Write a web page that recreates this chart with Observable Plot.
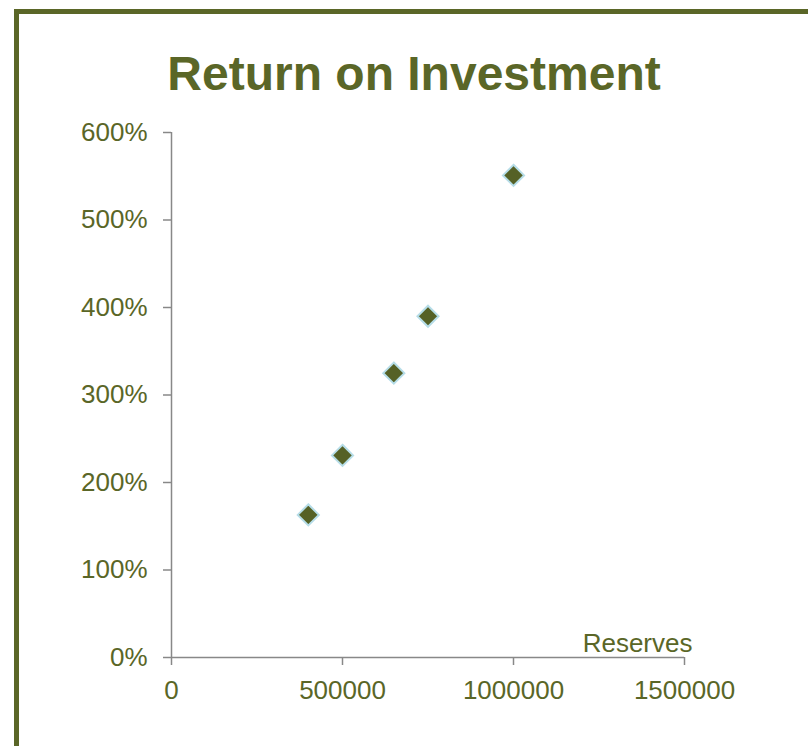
<!DOCTYPE html>
<html>
<head>
<meta charset="utf-8">
<script src="https://cdn.jsdelivr.net/npm/d3@7"></script>
<script src="https://cdn.jsdelivr.net/npm/@observablehq/plot@0.6"></script>
<style>
  html, body { margin: 0; padding: 0; background: #fff; width: 808px; height: 746px; overflow: hidden; }
  #frame { position: absolute; left: 14px; top: 9px; width: 900px; height: 900px;
           border-left: 5px solid #5A6627; border-top: 5px solid #5A6627; box-sizing: border-box; }
  #title { position: absolute; left: 414px; top: 50px; transform: translateX(-50%);
           font-family: "Liberation Sans", Arial, sans-serif; font-weight: bold; font-size: 48px;
           line-height: 48px; color: #5A6627; white-space: nowrap; }
  #chart { position: absolute; left: 0; top: 0; }
</style>
</head>
<body>
<div id="frame"></div>
<div id="chart"></div>
<div id="title">Return on Investment</div>
<script>
const reserves = [400000, 500000, 650000, 750000, 1000000];
const roi = [1.63, 2.31, 3.25, 3.90, 5.51];
const xTicks = [0, 500000, 1000000, 1500000];
const yTicks = [0, 1, 2, 3, 4, 5, 6];
const xLabel = "Reserves";

const olive = "#5A6627";
const markerFill = "#556126";
const axisGray = "#888888";
const data = reserves.map((r, i) => ({reserves: r, roi: roi[i]}));

const chart = Plot.plot({
  width: 808,
  height: 746,
  marginLeft: 171,
  marginRight: 124,
  marginTop: 132,
  marginBottom: 89,
  style: {fontFamily: "'Liberation Sans', Arial, sans-serif", fontSize: "26px", background: "transparent", overflow: "visible"},
  x: {domain: [0, 1500000]},
  y: {domain: [0, 6]},
  marks: [
    Plot.ruleY([0], {stroke: axisGray, strokeWidth: 1.5}),
    Plot.ruleX([0], {stroke: axisGray, strokeWidth: 1.5}),
    Plot.axisX({ticks: xTicks, tickFormat: d => String(d), tickSize: 8, tickPadding: 15,
                stroke: axisGray, fill: olive, label: null, strokeWidth: 1.5}),
    Plot.axisY({ticks: yTicks, tickFormat: d3.format(".0%"), tickSize: 8, tickPadding: 16,
                stroke: axisGray, fill: olive, label: null, strokeWidth: 1.5}),
    Plot.text([xLabel], {frameAnchor: "bottom-right", textAnchor: "end", lineAnchor: "bottom",
                dx: 8, dy: -6, fill: olive}),
    Plot.dot(data, {x: "reserves", y: "roi", symbol: "diamond2", r: 9.5,
                fill: markerFill, stroke: "#B6DDE8", strokeWidth: 2})
  ]
});
document.getElementById("chart").appendChild(chart);
</script>
</body>
</html>
